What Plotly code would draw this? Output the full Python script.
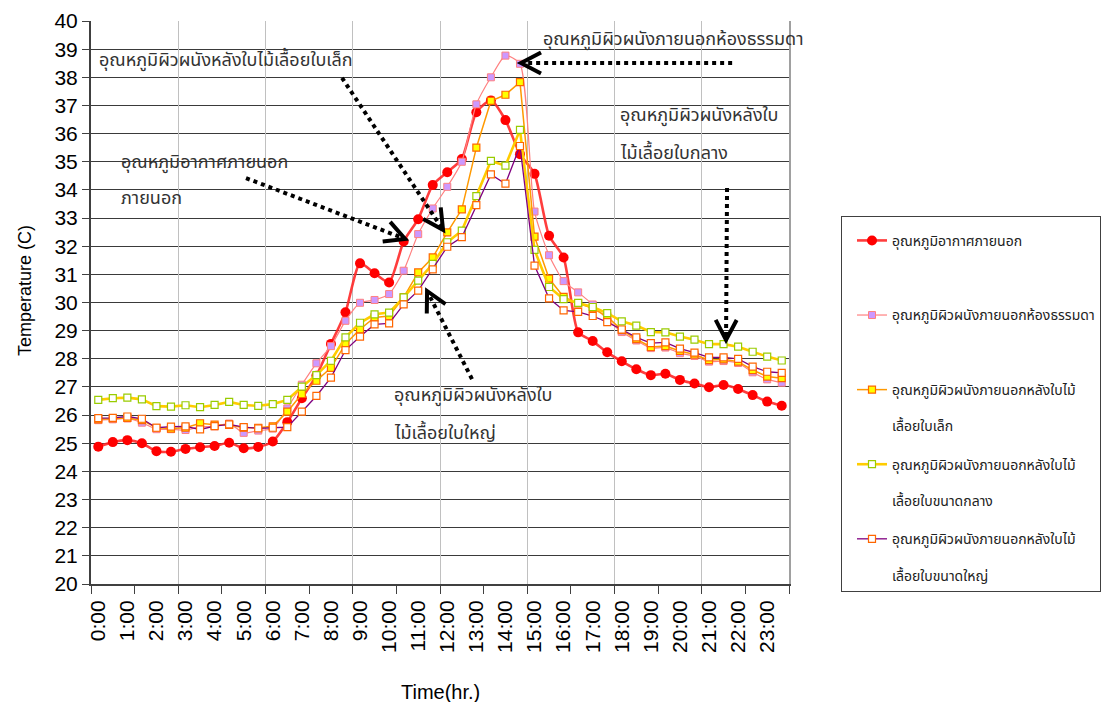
import math
import plotly.graph_objects as go

# Half-hourly readings, 0:00 to 23:30
time_labels = [f"{h}:{m:02d}" for h in range(24) for m in (0, 30)]
hour_labels = [f"{h}:00" for h in range(24)]

air_temp = [24.88, 25.04, 25.11, 25.00, 24.72, 24.70, 24.80, 24.86, 24.90, 25.02, 24.82, 24.87, 25.06,
            25.75, 26.60, 27.40, 28.53, 29.65, 31.39, 31.04, 30.71, 32.17, 32.96, 34.17,
            34.63, 35.10, 36.76, 37.18, 36.48, 35.27, 34.57, 32.37, 31.60, 28.94, 28.63, 28.23,
            27.91, 27.63, 27.42, 27.47, 27.25, 27.12, 26.99, 27.07, 26.93, 26.71, 26.48, 26.33]

wall_plain = [25.82, 25.85, 25.88, 25.73, 25.50, 25.50, 25.47, 25.58, 25.60, 25.70, 25.37, 25.45, 25.52,
              26.24, 27.08, 27.84, 28.45, 29.35, 29.99, 30.09, 30.30, 31.13, 32.43, 33.34,
              34.11, 35.00, 37.04, 38.00, 38.77, 38.48, 33.23, 31.68, 30.76, 30.36, 29.93, 29.40,
              28.95, 28.65, 28.38, 28.40, 28.20, 28.10, 27.90, 27.92, 27.85, 27.52, 27.27, 27.15]

wall_small_leaf = [25.85, 25.88, 25.90, 25.82, 25.55, 25.52, 25.55, 25.71, 25.66, 25.65, 25.55, 25.55, 25.60,
                   26.12, 26.75, 27.22, 27.68, 28.53, 29.05, 29.47, 29.52, 30.18, 31.07, 31.60,
                   32.49, 33.31, 35.50, 37.16, 37.38, 37.83, 32.34, 30.85, 30.20, 29.97, 29.79, 29.50,
                   29.02, 28.70, 28.42, 28.45, 28.28, 28.15, 27.95, 27.98, 27.90, 27.60, 27.37, 27.31]

wall_medium_leaf = [26.54, 26.60, 26.62, 26.56, 26.32, 26.30, 26.35, 26.28, 26.36, 26.47, 26.36, 26.33, 26.39,
                    26.54, 27.01, 27.42, 27.93, 28.76, 29.28, 29.58, 29.64, 30.18, 30.78, 31.37,
                    32.14, 32.55, 33.78, 35.03, 34.86, 36.13, 31.87, 30.55, 30.12, 29.99, 29.84, 29.62,
                    29.33, 29.18, 28.95, 28.94, 28.79, 28.68, 28.52, 28.52, 28.43, 28.25, 28.08, 27.94]

wall_large_leaf = [25.89, 25.90, 25.95, 25.87, 25.55, 25.59, 25.60, 25.49, 25.61, 25.67, 25.57, 25.53, 25.55,
                   25.57, 26.12, 26.68, 27.33, 28.31, 28.79, 29.22, 29.26, 29.93, 30.42, 31.18,
                   31.98, 32.32, 33.46, 34.55, 34.22, 35.56, 31.31, 30.15, 29.72, 29.67, 29.52, 29.30,
                   29.04, 28.76, 28.56, 28.58, 28.36, 28.22, 28.05, 28.05, 28.00, 27.72, 27.54, 27.50]

# legend entries: (first line, second line)
series_names = [
    ("อุณหภูมิอากาศภายนอก", ""),
    ("อุณหภูมิผิวผนังภายนอกห้องธรรมดา", ""),
    ("อุณหภูมิผิวผนังภายนอกหลังใบไม้", "เลื้อยใบเล็ก"),
    ("อุณหภูมิผิวผนังภายนอกหลังใบไม้", "เลื้อยใบขนาดกลาง"),
    ("อุณหภูมิผิวผนังภายนอกหลังใบไม้", "เลื้อยใบขนาดใหญ่"),
]

THAI = "Tahoma, 'Noto Sans Thai', 'Noto Sans', sans-serif"
LATIN = "'Liberation Sans', Arial, sans-serif"

xs = list(range(len(time_labels)))
hour_pos = [2 * h for h in range(len(hour_labels))]

styles = [
    dict(y=air_temp, line=dict(color="rgba(255,40,40,0.9)", width=2.6, shape="spline", smoothing=0.6),
         marker=dict(symbol="circle", size=10, color="#FF0000", line=dict(width=0))),
    dict(y=wall_plain, line=dict(color="#FF8080", width=1.2, shape="spline", smoothing=0.6),
         marker=dict(symbol="square", size=7, color="#CC99FF", line=dict(color="#FF8080", width=1))),
    dict(y=wall_small_leaf, line=dict(color="#FF9900", width=1.5),
         marker=dict(symbol="square", size=7, color="#FFFF00", line=dict(color="#FF6600", width=1.2))),
    dict(y=wall_medium_leaf, line=dict(color="#FFCC00", width=2.6),
         marker=dict(symbol="square", size=7, color="white", line=dict(color="#99CC00", width=1.2))),
    dict(y=wall_large_leaf, line=dict(color="#800080", width=1.3),
         marker=dict(symbol="square", size=7, color="white", line=dict(color="#FF6600", width=1.2))),
]

fig = go.Figure()
for i, ((first, second), st) in enumerate(zip(series_names, styles)):
    label = first + "<br> <br>" + (second or " ")
    fig.add_trace(go.Scatter(
        x=xs, y=st["y"], name=label,
        mode="lines+markers", line=st["line"], marker=st["marker"],
        customdata=time_labels, hovertemplate="%{customdata}: %{y:.2f} °C<extra></extra>",
        legendgroup=f"g{i}",
    ))

# invisible carrier for the overlay axes (vertical grid + right frame)
fig.add_trace(go.Scatter(x=[None], y=[None], xaxis="x2", yaxis="y2", showlegend=False, hoverinfo="skip"))

# callout texts (x in half-hour slots, y in °C)
callouts = [
    ("อุณหภูมิผิวผนังหลังใบไม้เลื้อยใบเล็ก", -0.09, 38.61),
    ("อุณหภูมิอากาศภายนอก", 1.43, 34.99),
    ("ภายนอก", 1.43, 33.71),
    ("อุณหภูมิผิวผนังภายนอกห้องธรรมดา", 30.45, 39.33),
    ("อุณหภูมิผิวผนังหลังใบ", 35.74, 36.63),
    ("ไม้เลื้อยใบกลาง", 35.74, 35.31),
    ("อุณหภูมิผิวผนังหลังใบ", 20.2, 26.68),
    ("ไม้เลื้อยใบใหญ่", 20.2, 25.36),
]
for text, cx, cy in callouts:
    fig.add_annotation(x=cx, y=cy, xref="x", yref="y", text=text, showarrow=False,
                       xanchor="left", yanchor="middle",
                       font=dict(family=THAI, size=18, color="#333333"))

# pixel scale of the plot area, used to keep the arrow heads undistorted
PX_PER_SLOT = 698 / 48
PX_PER_DEG = 563 / 20

# dotted pointers: (tail x, tail y, tip x, tip y)
pointers = [
    (16.76, 37.98, 23.71, 32.58),
    (10.16, 34.42, 21.10, 32.26),
    (43.59, 38.51, 29.07, 38.51),
    (43.24, 34.07, 43.17, 28.67),
    (25.70, 27.28, 22.61, 30.41),
]
for tx, ty, hx, hy in pointers:
    dxp = (hx - tx) * PX_PER_SLOT
    dyp = -(hy - ty) * PX_PER_DEG
    n = math.hypot(dxp, dyp)
    ux, uy = dxp / n, dyp / n
    back, half = 20, 10.5

    def to_data(ox, oy):
        return hx + ox / PX_PER_SLOT, hy - oy / PX_PER_DEG

    ex, ey = to_data(-4 * ux, -4 * uy)
    fig.add_shape(type="line", xref="x", yref="y", x0=tx, y0=ty, x1=ex, y1=ey,
                  line=dict(color="black", width=4, dash="dot"))
    a1 = to_data(-back * ux - half * uy, -back * uy + half * ux)
    a2 = to_data(-back * ux + half * uy, -back * uy - half * ux)
    fig.add_shape(type="path", xref="x", yref="y",
                  path=f"M {a1[0]},{a1[1]} L {hx},{hy} L {a2[0]},{a2[1]}",
                  line=dict(color="black", width=4))

# axis titles
fig.add_annotation(x=-0.0946, y=0.522, xref="paper", yref="paper", text="Temperature (C)",
                   textangle=-90, showarrow=False, xanchor="center", yanchor="middle",
                   font=dict(family=LATIN, size=18, color="black"))
fig.add_annotation(x=0.5, y=-0.1918, xref="paper", yref="paper", text="Time(hr.)",
                   showarrow=False, xanchor="center", yanchor="middle",
                   font=dict(family=LATIN, size=20, color="black"))

fig.update_layout(
    width=1115, height=702,
    margin=dict(l=91, r=326, t=21, b=118, autoexpand=False),
    paper_bgcolor="white", plot_bgcolor="white",
    showlegend=True,
    legend=dict(x=1.0745, y=0.6536, xanchor="left", yanchor="top",
                bordercolor="#404040", borderwidth=1, bgcolor="white",
                font=dict(family=THAI, size=14, color="#222222"),
                title=dict(text=" ", font=dict(size=6)),
                valign="top", traceorder="grouped", tracegroupgap=17, itemwidth=30,
                indentation=10),
    xaxis=dict(range=[-0.5, 47.5], tickmode="array", tickvals=hour_pos, ticktext=hour_labels,
               tickangle=-90, ticks="", showgrid=False, zeroline=False,
               showline=True, linecolor="#404040", linewidth=2, ticklabelstandoff=6,
               tickfont=dict(family=LATIN, size=21, color="black"),
               minor=dict(tick0=-0.5, dtick=3, ticks="outside", ticklen=8,
                          tickcolor="#404040", tickwidth=1, showgrid=False)),
    xaxis2=dict(overlaying="x", matches="x", anchor="y", tickmode="array",
                tickvals=[5.5, 11.5, 17.5, 23.5, 29.5, 35.5, 41.5],
                showgrid=True, gridcolor="#C0C0C0", gridwidth=1, showticklabels=False,
                ticks="", zeroline=False, showline=False),
    yaxis=dict(range=[20, 40], tick0=20, dtick=1, showgrid=True, gridcolor="#3a3a3a", gridwidth=1,
               ticks="outside", ticklen=7, tickcolor="#404040", zeroline=False,
               showline=True, linecolor="#404040", linewidth=2,
               tickfont=dict(family=LATIN, size=21, color="black")),
    yaxis2=dict(overlaying="y", side="right", anchor="x", showline=True, linecolor="#A0A0A0",
                linewidth=2, showgrid=False, showticklabels=False, ticks="", zeroline=False),
)

fig.write_html("out.html")
